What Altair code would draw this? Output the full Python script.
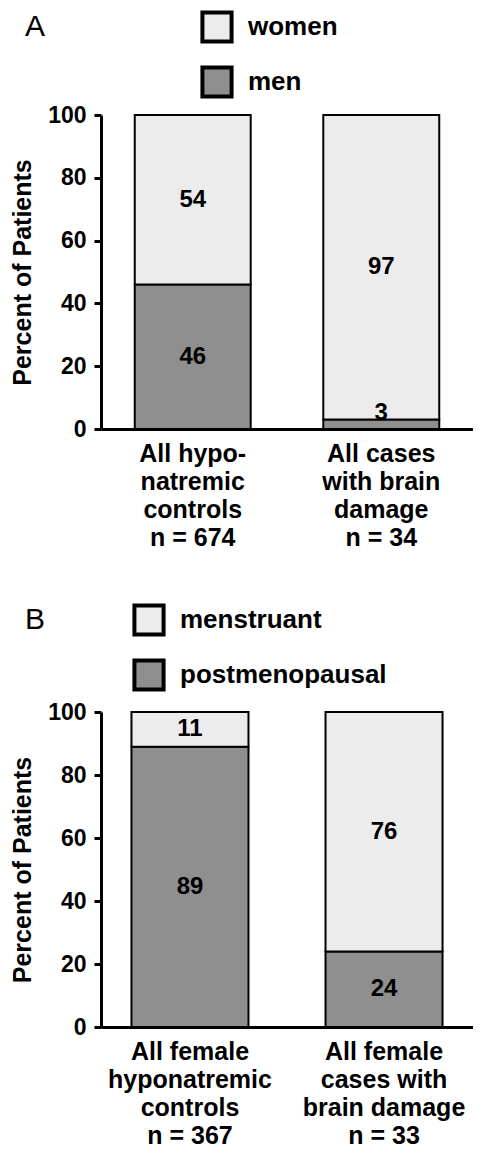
import altair as alt
import pandas as pd

FONT = "Liberation Sans"

# ---- data ----
groups_a = ["All hypo-|natremic|controls|n = 674", "All cases|with brain|damage|n = 34"]
women = [54, 97]
men = [46, 3]

groups_b = ["All female|hyponatremic|controls|n = 367", "All female|cases with|brain damage|n = 33"]
menstruant = [11, 76]
postmenopausal = [89, 24]

LIGHT = "#ececec"
DARK = "#8f8f8f"


def table(groups, top_name, top_vals, bottom_name, bottom_vals):
    rows = []
    for g, t, b in zip(groups, top_vals, bottom_vals):
        rows.append({"group": g, "cat": bottom_name, "value": b, "order": 0})
        rows.append({"group": g, "cat": top_name, "value": t, "order": 1})
    return pd.DataFrame(rows)


def panel(df, groups, letter, top_name, bottom_name, width, height, xscale,
          title_pad, legend_x, legend_y, letter_x, letter_y):
    x_axis = alt.Axis(
        labelExpr="split(datum.label, '|')", labelAngle=0, labelFontSize=25,
        labelFontWeight="bold", labelLineHeight=28, labelPadding=12,
        labelBaseline="top", ticks=False, domainWidth=3, domainColor="black",
        labelColor="black", labelFont=FONT, labelLimit=300,
    )
    y_axis = alt.Axis(
        values=[0, 20, 40, 60, 80, 100], labelFontSize=23, labelFontWeight="bold",
        labelFont=FONT, labelColor="black", titleFont=FONT, titleFontSize=25,
        titleFontWeight="bold", titleColor="black", tickSize=7, tickWidth=3,
        tickColor="black", domainWidth=3, domainColor="black", labelPadding=8,
        titlePadding=title_pad, grid=False,
    )
    x = alt.X("group:N", sort=groups, title=None, scale=alt.Scale(**xscale), axis=x_axis)
    color = alt.Color(
        "cat:N",
        scale=alt.Scale(domain=[top_name, bottom_name], range=[LIGHT, DARK]),
        legend=alt.Legend(
            orient="none", legendX=legend_x, legendY=legend_y, title=None,
            symbolType="square", symbolSize=850, symbolStrokeColor="black",
            symbolStrokeWidth=4, symbolOpacity=1, labelFontSize=26,
            labelFontWeight="bold", labelFont=FONT, labelColor="black",
            labelOffset=14, rowPadding=9, padding=0, labelLimit=400,
        ),
    )
    bars = alt.Chart(df).mark_bar(stroke="black", strokeWidth=2).encode(
        x=x,
        y=alt.Y("value:Q", stack="zero", scale=alt.Scale(domain=[0, 100]),
                title="Percent of Patients", axis=y_axis),
        color=color,
        order=alt.Order("order:Q"),
    )
    labels = alt.Chart(df).transform_stack(
        stack="value", groupby=["group"], as_=["v0", "v1"],
        sort=[alt.SortField("order", order="ascending")],
    ).transform_calculate(
        mid="max((datum.v0 + datum.v1) / 2, 5)"
    ).mark_text(
        font=FONT, fontSize=24, fontWeight="bold", color="black", baseline="middle"
    ).encode(
        x=alt.X("group:N", sort=groups),
        y=alt.Y("mid:Q", stack=None, title="Percent of Patients"),
        text=alt.Text("value:Q"),
    )
    # panel letter (annotation)
    letter_mark = alt.Chart(pd.DataFrame({"letter": [letter]})).mark_text(
        font=FONT, fontSize=30, fontWeight="normal", color="black",
        align="left", baseline="middle",
    ).encode(
        x=alt.value(letter_x), y=alt.value(letter_y), text="letter:N"
    )
    return alt.layer(bars, labels, letter_mark).properties(width=width, height=height)


df_a = table(groups_a, "women", women, "men", men)
df_b = table(groups_b, "menstruant", menstruant, "postmenopausal", postmenopausal)

chart_a = panel(df_a, groups_a, "A", "women", "men", 372, 314,
                dict(paddingInner=0.385, paddingOuter=0.179),
                12, 99, -105, -76, -88)
chart_b = panel(df_b, groups_b, "B", "menstruant", "postmenopausal", 372, 315,
                dict(paddingInner=0.397, paddingOuter=0.157),
                12, 31, -109, -76, -92)

chart = alt.vconcat(chart_a, chart_b, spacing=53).resolve_scale(
    color="independent", x="independent", y="independent"
).properties(
    padding={"left": 2, "top": 2, "right": 0, "bottom": 0}
).configure_view(stroke=None)

chart.save("out.html", embed_options={"renderer": "svg", "actions": False})
